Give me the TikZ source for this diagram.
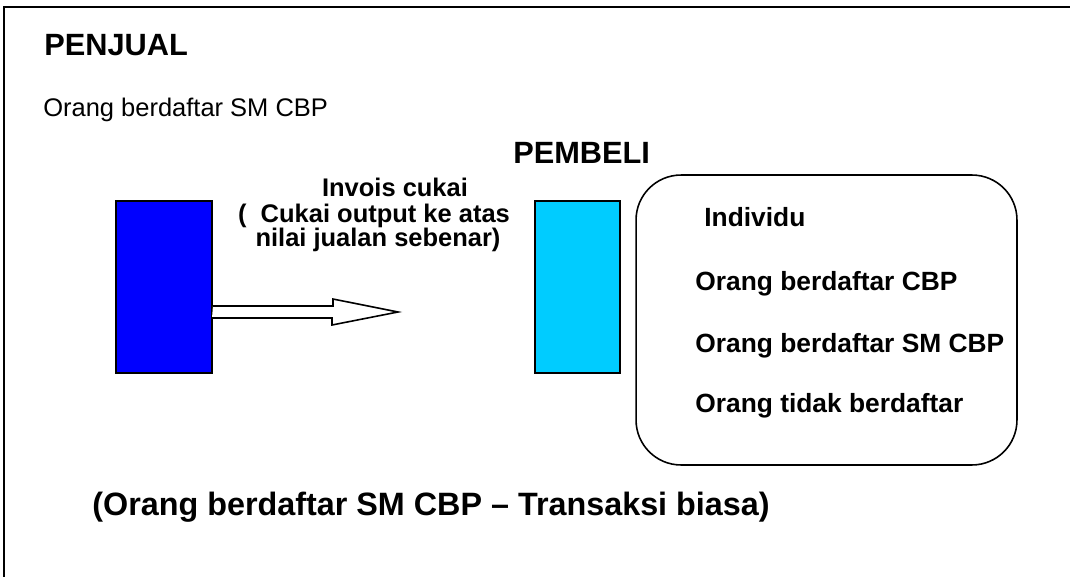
\documentclass[tikz,border=0pt]{standalone}
\usepackage{fontspec}
\setmainfont{Liberation Sans}
\usepackage{tikz}
\definecolor{sellerblue}{RGB}{0,0,255}
\definecolor{buyercyan}{RGB}{0,204,255}
\tikzstyle{party}=[
	rectangle,
	minimum width=1.92cm,
	minimum height=3.44cm,
	draw=black,
	line width=1.1pt
]
\tikzstyle{group}=[
	rectangle,
	rounded corners=0.9cm,
	minimum width=7.62cm,
	minimum height=5.8cm,
	draw=black,
	line width=0.9pt
]
\tikzstyle{heading}=[anchor=base west,inner sep=0pt,font=\fontsize{17.5}{21}\selectfont\bfseries]
\tikzstyle{note}=[anchor=base,inner sep=0pt,font=\fontsize{14.5}{17}\selectfont\bfseries]
\tikzstyle{kind}=[anchor=base west,inner sep=0pt,font=\fontsize{15}{18}\selectfont\bfseries]
\tikzstyle{bigarrow}=[draw=black,fill=white,line width=0.9pt,line join=miter]

\begin{document}
\begin{tikzpicture}[x=0.02cm,y=-0.02cm]
\useasboundingbox (0,0) rectangle (1070,577);

% Frame
\draw[line width=1.1pt] (1070,7) -- (4,7) -- (4,577);

% Seller
\node[heading] (penjual) at (44,56){PENJUAL};
\node[anchor=base west,inner sep=0pt,font=\fontsize{14.5}{17}\selectfont] (daftar) at (43,117){Orang berdaftar SM CBP};
\node[party,fill=sellerblue] (seller) at (164,287){};

% Buyer
\node[heading] (pembeli) at (513,164){PEMBELI};
\node[party,fill=buyercyan,minimum width=1.7cm] (buyer) at (577.5,287){};

% Kinds of buyer
\node[group] (kinds) at (826.5,320){};
\node[kind] (individu) at (704,227){Individu};
\node[kind] (cbp) at (695,290){Orang berdaftar CBP};
\node[kind] (smcbp) at (695,352){Orang berdaftar SM CBP};
\node[kind] (tidak) at (695,412){Orang tidak berdaftar};

% Tax invoice
\node[note] (invois) at (395,197){Invois cukai};
\node[note] (output) at (374,223){( \ Cukai output ke atas};
\node[note] (nilai) at (378,247){nilai jualan sebenar)};

% Seller to buyer
\path (seller.east) ++(0,25) coordinate (tail);
\coordinate (tip) at (398,312);
\draw[bigarrow] (tail) ++(0,-6) -- ++(120,0) -- ++(0,-7) -- (tip) -- ++(-66,13) -- ++(0,-7) -- ++(-120,0);

% Caption
\node[anchor=base west,inner sep=0pt,font=\fontsize{18.4}{22}\selectfont\bfseries] (caption) at (92,515){(Orang berdaftar SM CBP -- Transaksi biasa)};

\end{tikzpicture}
\end{document}
